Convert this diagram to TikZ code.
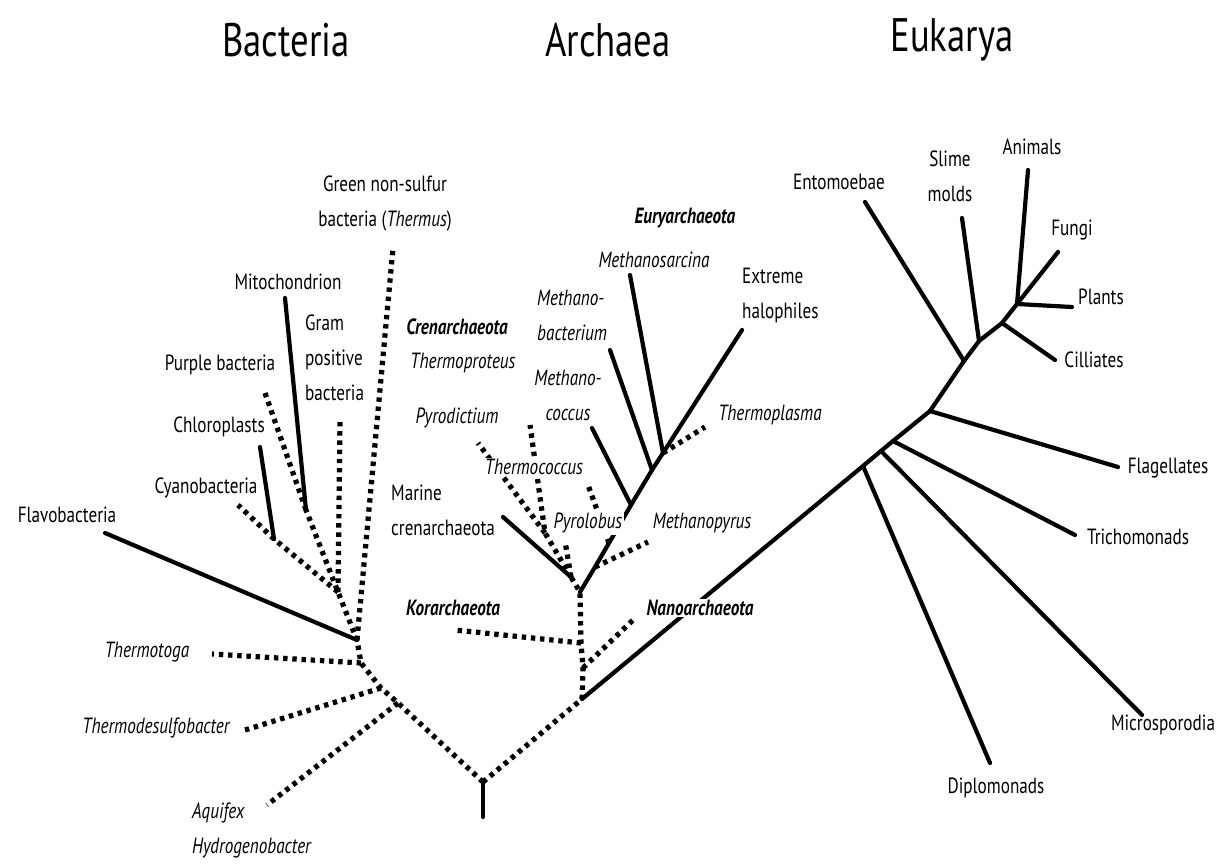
\documentclass[tikz,border=0pt]{standalone}
\usepackage{fontspec}
\setmainfont{PT Sans}[FakeStretch=0.78]
\begin{document}
\begin{tikzpicture}[x=1pt,y=-1pt,
  solbr/.style={line width=4.2pt,line cap=round},
  dotbr/.style={line width=5.2pt,dash pattern=on 4.4pt off 4.8pt},
  lbl/.style={inner sep=0pt,font=\fontsize{22}{35}\selectfont},
  itl/.style={inner sep=0pt,font=\fontsize{22}{35}\selectfont\itshape},
  bit/.style={inner sep=0pt,font=\fontsize{22}{35}\selectfont\bfseries\itshape},
  ttl/.style={inner sep=0pt,font=\fontsize{47}{47}\selectfont},
  cover/.style={fill=white,inner sep=1.5pt}]
\useasboundingbox (0,0) rectangle (1222,866);
% ---------- Bacteria coordinates
\coordinate (R) at (483,782);
\coordinate (Rs) at (483,817);
\coordinate (Aq) at (398,703);
\coordinate (Td) at (381,688);
\coordinate (Tt) at (361,663);
\coordinate (Bc) at (357,640);
\coordinate (G) at (338,592);
\coordinate (P) at (306,510);
\coordinate (C) at (274,539);
\coordinate (tAq) at (267,805);
\coordinate (tTd) at (245,730);
\coordinate (tTt) at (212,654);
\coordinate (tFl) at (105,533);
\coordinate (tTh) at (393,248);
\coordinate (tGp) at (340,420);
\coordinate (tMi) at (285,298);
\coordinate (tPu) at (265,393);
\coordinate (tCh) at (260,447);
\coordinate (tCy) at (238,505);
% ---------- Archaea coordinates
\coordinate (A2) at (582,699);
\coordinate (Nj) at (583,668);
\coordinate (Kj) at (581,643);
\coordinate (A0) at (580,592);
\coordinate (C0) at (571,577);
\coordinate (C1) at (545,533);
\coordinate (Mp) at (595,567);
\coordinate (Tc) at (609,543);
\coordinate (Mc) at (631,505);
\coordinate (Mb) at (652,470);
\coordinate (E0) at (663,453);
\coordinate (tKo) at (455,630);
\coordinate (tNa) at (633,620);
\coordinate (tMa) at (503,517);
\coordinate (tTp) at (530,425);
\coordinate (tPd) at (478,443);
\coordinate (tPl) at (565,541);
\coordinate (tMpy) at (648,542);
\coordinate (tTc) at (588,485);
\coordinate (tMc) at (592,428);
\coordinate (tMb) at (610,350);
\coordinate (tMs) at (630,275);
\coordinate (tEh) at (742,330);
\coordinate (tTpl) at (705,427);
% ---------- Eukarya coordinates
\coordinate (K1) at (863,466);
\coordinate (K2) at (881,451);
\coordinate (K3) at (893,441);
\coordinate (K4) at (930,411);
\coordinate (K5) at (964,361);
\coordinate (K6) at (979,341);
\coordinate (K7) at (1002,323);
\coordinate (K8) at (1017,304);
\coordinate (tDi) at (990,763);
\coordinate (tMsp) at (1142,715);
\coordinate (tTr) at (1075,535);
\coordinate (tFg) at (1118,467);
\coordinate (tEn) at (865,202);
\coordinate (tSl) at (962,218);
\coordinate (tCi) at (1055,360);
\coordinate (tAn) at (1028,170);
\coordinate (tFu) at (1058,252);
\coordinate (tPlt) at (1072,307);
% ---------- Bacteria branches
\draw[solbr] (R) -- (Rs);
\draw[dotbr] (R) -- (Aq) -- (Td) -- (Tt) -- (Bc) -- (G) -- (P);
\draw[dotbr] (G) -- (tGp);
\draw[dotbr] (G) -- (C) -- (tCy);
\draw[dotbr] (P) -- (tPu);
\draw[dotbr] (Bc) -- (tTh);
\draw[dotbr] (Tt) -- (tTt);
\draw[dotbr] (Td) -- (tTd);
\draw[dotbr] (Aq) -- (tAq);
\draw[solbr] (Bc) -- (tFl);
\draw[solbr] (P) -- (tMi);
\draw[solbr] (C) -- (tCh);
% ---------- Archaea branches
\draw[dotbr] (R) -- (A2);
\draw[dotbr] (A2) -- (Nj) -- (Kj) -- (A0) -- (C0);
\draw[dotbr] (Kj) -- (tKo);
\draw[dotbr] (Nj) -- (tNa);
\draw[dotbr] (C0) -- (C1) -- (tTp);
\draw[dotbr] (C1) -- (tPd);
\draw[dotbr] (C0) -- (tPl);
\draw[dotbr] (Mp) -- (tMpy);
\draw[dotbr] (Tc) -- (tTc);
\draw[dotbr] (E0) -- (tTpl);
\draw[solbr] (A0) -- (Mp) -- (Tc) -- (Mc) -- (Mb) -- (E0);
\draw[solbr] (C0) -- (tMa);
\draw[solbr] (Mc) -- (tMc);
\draw[solbr] (Mb) -- (tMb);
\draw[solbr] (E0) -- (tMs);
\draw[solbr] (E0) -- (tEh);
% ---------- Eukarya branches
\draw[solbr] (A2) -- (K1) -- (K2) -- (K3) -- (K4) -- (K5) -- (K6) -- (K7) -- (K8);
\draw[solbr] (K1) -- (tDi);
\draw[solbr] (K2) -- (tMsp);
\draw[solbr] (K3) -- (tTr);
\draw[solbr] (K4) -- (tFg);
\draw[solbr] (K5) -- (tEn);
\draw[solbr] (K6) -- (tSl);
\draw[solbr] (K7) -- (tCi);
\draw[solbr] (K8) -- (tAn);
\draw[solbr] (K8) -- (tFu);
\draw[solbr] (K8) -- (tPlt);
% ---------- Titles
\node[ttl] (hB) at (286,40) {Bacteria};
\node[ttl] (hA) at (608,40) {Archaea};
\node[ttl] (hE) at (952,40) {Eukarya};
% ---------- Bacteria labels
\node[lbl,align=center] (lTh) at (385,204) {Green non-sulfur\\bacteria (\textit{Thermus})};
\node[lbl] (lMi) at (288,282) {Mitochondrion};
\node[lbl,align=left,anchor=west] (lGp) at (305,358) {Gram\\positive\\bacteria};
\node[lbl] (lPu) at (220,365) {Purple bacteria};
\node[lbl] (lCh) at (219,427) {Chloroplasts};
\node[lbl] (lCy) at (206,488) {Cyanobacteria};
\node[lbl] (lFl) at (67,515) {Flavobacteria};
\node[itl] (lTt) at (147,652) {Thermotoga};
\node[itl] (lTd) at (156,728) {Thermodesulfobacter};
\node[itl,align=left,anchor=west] (lAq) at (192,830) {Aquifex\\Hydrogenobacter};
% ---------- Archaea labels
\node[bit] (lCr) at (457,327) {Crenarchaeota};
\node[itl] (lTp) at (463,363) {Thermoproteus};
\node[itl] (lPd) at (457,418) {Pyrodictium};
\node[itl,cover] (lTc) at (534,467) {Thermococcus};
\node[lbl,align=left,anchor=west] (lMa) at (391,510) {Marine\\crenarchaeota};
\node[itl,cover] (lPl) at (588,523) {Pyrolobus};
\node[itl] (lMpy) at (702,523) {Methanopyrus};
\node[itl,align=center] (lMc) at (568,395) {Methano-\\coccus};
\node[itl,align=left,anchor=west] (lMb) at (537,315) {Methano-\\bacterium};
\node[bit] (lEu) at (685,218) {Euryarchaeota};
\node[itl] (lMs) at (654,260) {Methanosarcina};
\node[lbl,align=left,anchor=west] (lEh) at (742,295) {Extreme\\halophiles};
\node[itl] (lTpl) at (770,415) {Thermoplasma};
\node[bit] (lKo) at (453,608) {Korarchaeota};
\node[bit,cover] (lNa) at (700,608) {Nanoarchaeota};
% ---------- Eukarya labels
\node[lbl] (lEn) at (839,182) {Entomoebae};
\node[lbl,align=center] (lSl) at (950,176) {Slime\\molds};
\node[lbl] (lAn) at (1032,147) {Animals};
\node[lbl] (lFu) at (1072,230) {Fungi};
\node[lbl] (lPlt) at (1101,297) {Plants};
\node[lbl] (lCi) at (1094,360) {Cilliates};
\node[lbl] (lFg) at (1168,468) {Flagellates};
\node[lbl] (lTr) at (1138,537) {Trichomonads};
\node[lbl] (lMsp) at (1163,725) {Microsporodia};
\node[lbl] (lDi) at (996,788) {Diplomonads};
\end{tikzpicture}
\end{document}
